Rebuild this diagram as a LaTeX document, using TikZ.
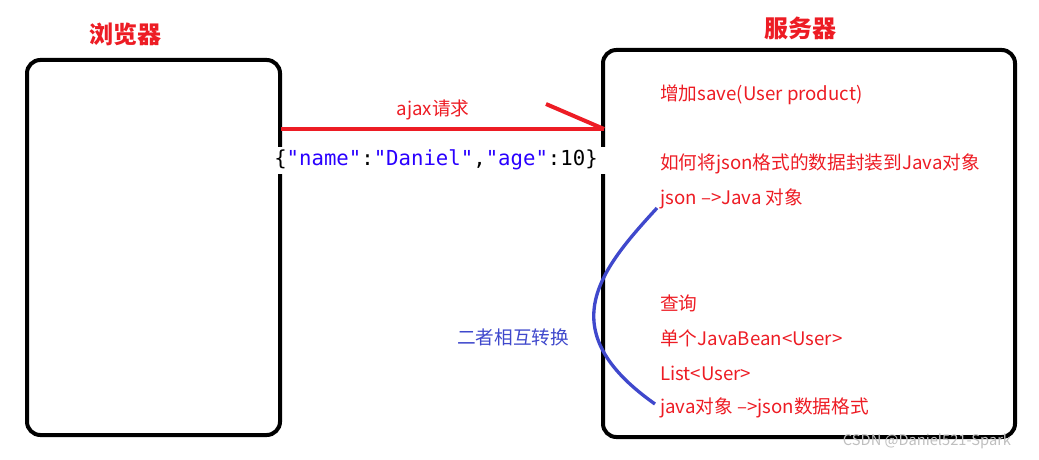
\documentclass[tikz,border=0pt]{standalone}
\usepackage{fontspec}
\setmainfont{Noto Sans CJK SC}
\newfontfamily\monof{DejaVu Sans Mono}
\definecolor{myred}{HTML}{ED1C24}
\definecolor{myblue}{HTML}{3F48CC}
\definecolor{jblue}{HTML}{2A00FF}
\begin{document}
\begin{tikzpicture}[x=0.75pt,y=-0.75pt,
  frame/.style={draw=black,line width=3pt,rounded corners=10pt},
  rtxt/.style={text=myred,font=\fontsize{14}{16}\selectfont,anchor=west,inner sep=0pt}]
\useasboundingbox (0,0) rectangle (1039,460);
\draw[frame] (27,60) rectangle (280,435);
\draw[frame] (603,50) rectangle (1015,437);
\node[text=myred,font=\bfseries\fontsize{18}{20}\selectfont] (t1) at (125,34) {浏览器};
\node[text=myred,font=\bfseries\fontsize{18}{20}\selectfont] (t2) at (800,28) {服务器};
\coordinate (a1) at (281,129);
\coordinate (a2) at (604,129);
\coordinate (a3) at (546,104);
\draw[myred,line width=3pt] (a1) -- (a2);
\draw[myred,line width=3pt] (a3) -- (a2);
\node[text=myred,font=\fontsize{14}{16}\selectfont] (aj) at (433,110) {ajax请求};
\node[fill=white,inner sep=0pt,minimum width=345pt*0.75,minimum height=27pt*0.75,font=\monof\fontsize{15.5}{17}\selectfont] (js) at (436,160)
 {\{\textcolor{jblue}{"name"}:\textcolor{jblue}{"Daniel"},\textcolor{jblue}{"age"}:10\}};
\node[rtxt] (r1) at (660,95) {增加save(User product)};
\node[rtxt] (r2) at (660,164) {如何将json格式的数据封装到Java对象};
\node[rtxt] (r3) at (660,199) {json -->Java 对象};
\node[rtxt] (r4) at (660,303) {查询};
\node[rtxt] (r5) at (660,338) {单个JavaBean<User>};
\node[rtxt] (r6) at (660,373) {List<User>};
\node[rtxt] (r7) at (660,408) {java对象 -->json数据格式};
\coordinate (c1) at (657,208);
\coordinate (c2) at (655,404);
\draw[myblue,line width=2.5pt] (c1) .. controls (600,270) and (550,330) .. (c2);
\node[text=myblue,font=\fontsize{14}{16}\selectfont] (bl) at (513,337) {二者相互转换};
\node[text=gray!50,font=\fontsize{11}{13}\selectfont] (wm) at (927,441) {CSDN @Daniel521-Spark};
\end{tikzpicture}
\end{document}
